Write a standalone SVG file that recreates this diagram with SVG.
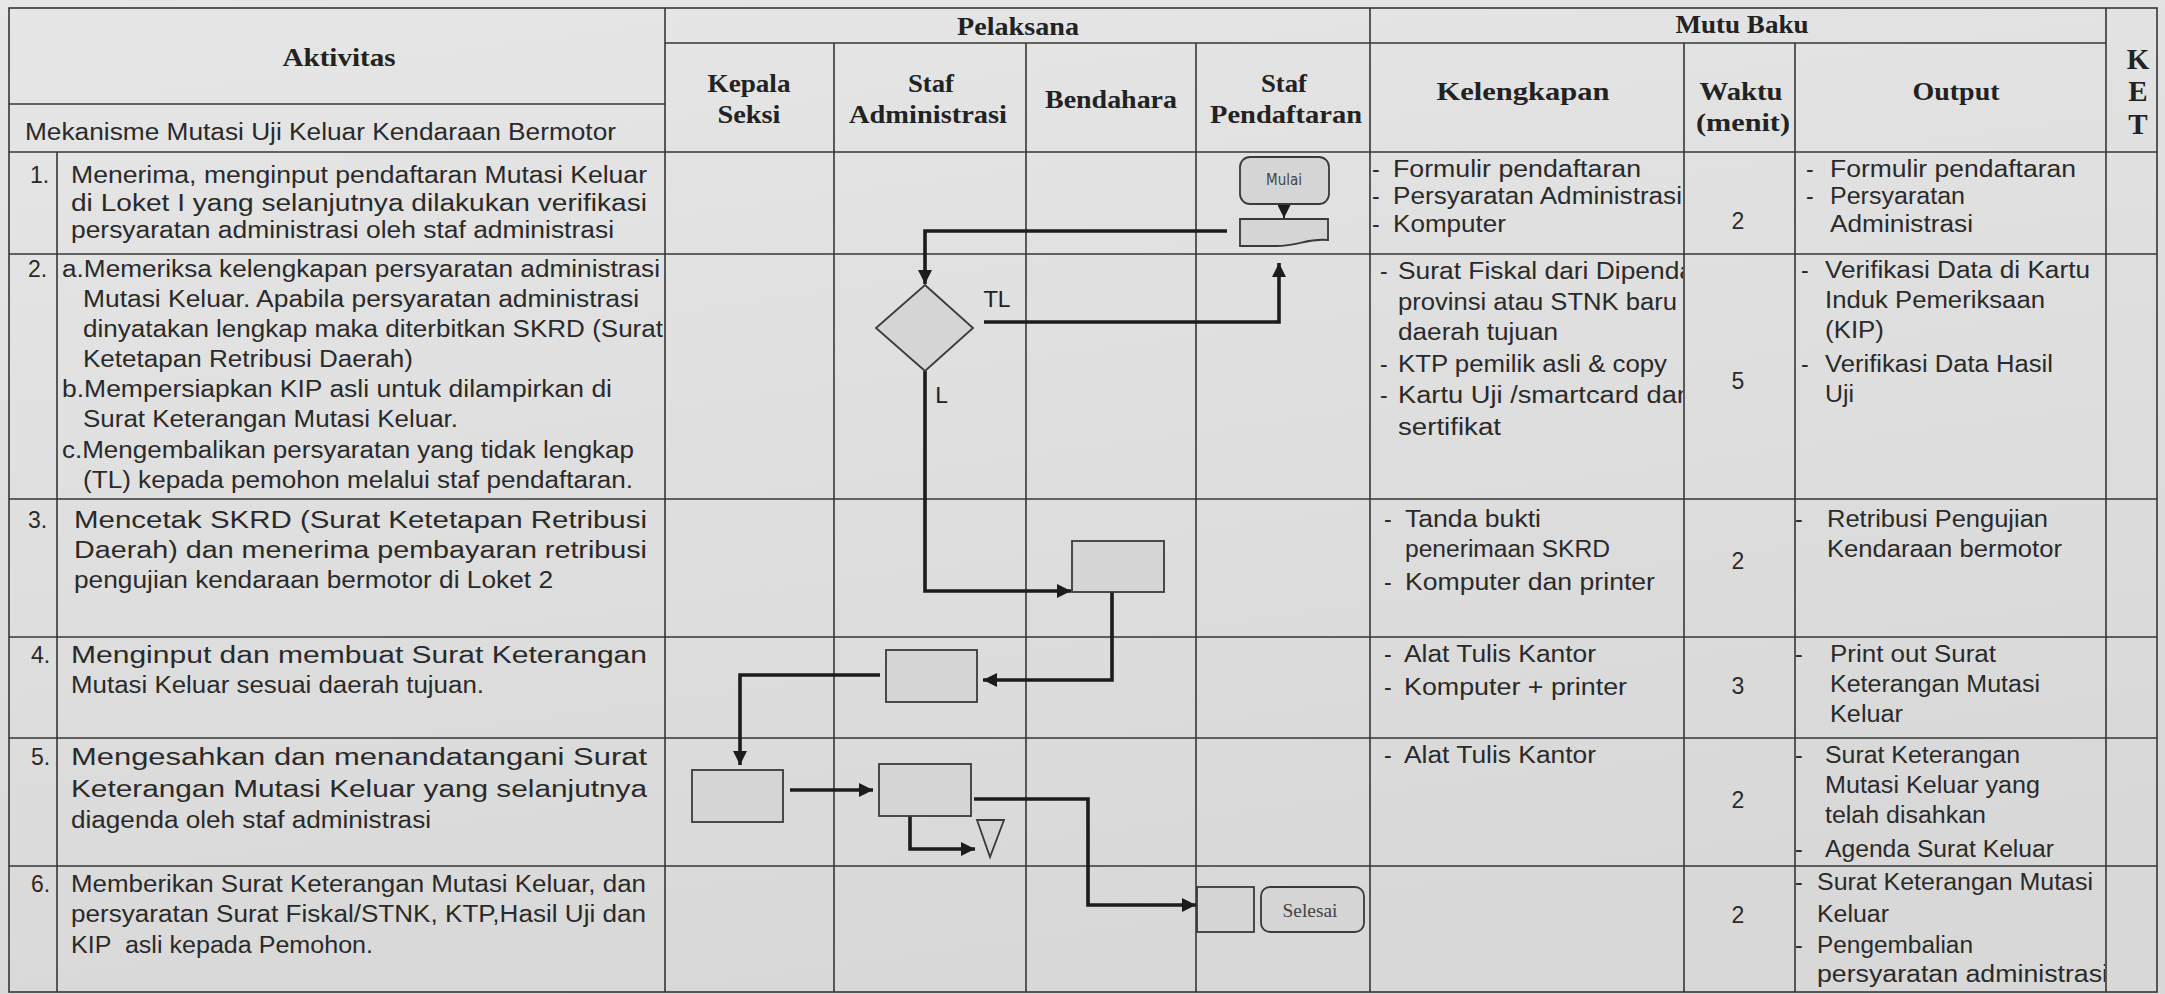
<svg xmlns="http://www.w3.org/2000/svg" width="2165" height="994" viewBox="0 0 2165 994">
<style>
.grid{stroke:#363636;stroke-width:1.6;fill:none}
.hd{font-family:"Liberation Serif",serif;font-weight:bold;font-size:26px;fill:#222}
.ket{font-size:29px}
.tx{font-family:"Liberation Sans",sans-serif;font-size:23px;fill:#2a2a2a}
.ctr{text-anchor:middle}
.box{fill:#d5d5d5;stroke:#3a3a3a;stroke-width:1.8}
.conn{stroke:#1c1c1c;stroke-width:3.6;fill:none}
.thin{stroke:#1c1c1c;stroke-width:2;fill:none}
.lbl{font-family:"DejaVu Sans",sans-serif;font-size:22px;fill:#222}
</style>
<defs>
<linearGradient id="bg" x1="0" y1="0" x2="0.3" y2="1">
<stop offset="0" stop-color="#e6e6e6"/>
<stop offset="1" stop-color="#d8d8d8"/>
</linearGradient>
<marker id="arr" viewBox="0 0 10 10" refX="10" refY="5" markerWidth="14" markerHeight="14" markerUnits="userSpaceOnUse" orient="auto">
<path d="M0,0 L10,5 L0,10 z" fill="#1c1c1c"/>
</marker>
<marker id="arrS" viewBox="0 0 10 10" refX="10" refY="5" markerWidth="14" markerHeight="13" markerUnits="userSpaceOnUse" orient="auto">
<path d="M0,0 L10,5 L0,10 z" fill="#1c1c1c"/>
</marker>
<clipPath id="clipKel"><rect x="1370" y="152" width="313" height="840"/></clipPath>
<clipPath id="clipOut"><rect x="1795" y="152" width="310" height="840"/></clipPath>
</defs>
<rect x="0" y="0" width="2165" height="994" fill="url(#bg)"/>

<g id="table">
<rect class="grid" x="9" y="8" width="2148" height="984"/>
<line class="grid" x1="665" y1="43" x2="2106" y2="43"/>
<line class="grid" x1="9" y1="104" x2="665" y2="104"/>
<line class="grid" x1="9" y1="152" x2="2157" y2="152"/>
<line class="grid" x1="9" y1="254" x2="2157" y2="254"/>
<line class="grid" x1="9" y1="499" x2="2157" y2="499"/>
<line class="grid" x1="9" y1="637" x2="2157" y2="637"/>
<line class="grid" x1="9" y1="738" x2="2157" y2="738"/>
<line class="grid" x1="9" y1="866" x2="2157" y2="866"/>
<line class="grid" x1="57" y1="152" x2="57" y2="992"/>
<line class="grid" x1="665" y1="8" x2="665" y2="992"/>
<line class="grid" x1="834" y1="43" x2="834" y2="992"/>
<line class="grid" x1="1026" y1="43" x2="1026" y2="992"/>
<line class="grid" x1="1196" y1="43" x2="1196" y2="992"/>
<line class="grid" x1="1370" y1="8" x2="1370" y2="992"/>
<line class="grid" x1="1684" y1="43" x2="1684" y2="992"/>
<line class="grid" x1="1795" y1="43" x2="1795" y2="992"/>
<line class="grid" x1="2106" y1="8" x2="2106" y2="992"/>
</g>

<g id="headers">
<text class="hd ctr" x="339" y="66" textLength="113" lengthAdjust="spacingAndGlyphs">Aktivitas</text>
<text class="tx" x="25" y="140" textLength="591" lengthAdjust="spacingAndGlyphs">Mekanisme Mutasi Uji Keluar Kendaraan Bermotor</text>
<text class="hd ctr" x="1018" y="35" textLength="122" lengthAdjust="spacingAndGlyphs">Pelaksana</text>
<text class="hd ctr" x="1742" y="33" textLength="133" lengthAdjust="spacingAndGlyphs">Mutu Baku</text>
<text class="hd ctr" x="749" y="92" textLength="83" lengthAdjust="spacingAndGlyphs">Kepala</text>
<text class="hd ctr" x="749" y="123" textLength="63" lengthAdjust="spacingAndGlyphs">Seksi</text>
<text class="hd ctr" x="931" y="92" textLength="46" lengthAdjust="spacingAndGlyphs">Staf</text>
<text class="hd ctr" x="928" y="123" textLength="158" lengthAdjust="spacingAndGlyphs">Administrasi</text>
<text class="hd ctr" x="1111" y="108" textLength="132" lengthAdjust="spacingAndGlyphs">Bendahara</text>
<text class="hd ctr" x="1284" y="92" textLength="46" lengthAdjust="spacingAndGlyphs">Staf</text>
<text class="hd ctr" x="1286" y="123" textLength="152" lengthAdjust="spacingAndGlyphs">Pendaftaran</text>
<text class="hd ctr" x="1523" y="100" textLength="173" lengthAdjust="spacingAndGlyphs">Kelengkapan</text>
<text class="hd ctr" x="1741" y="100" textLength="83" lengthAdjust="spacingAndGlyphs">Waktu</text>
<text class="hd ctr" x="1743" y="131" textLength="94" lengthAdjust="spacingAndGlyphs">(menit)</text>
<text class="hd ctr" x="1956" y="100" textLength="87" lengthAdjust="spacingAndGlyphs">Output</text>
<text class="hd ket ctr" x="2138" y="69">K</text>
<text class="hd ket ctr" x="2138" y="101">E</text>
<text class="hd ket ctr" x="2138" y="134">T</text>
</g>

<g id="aktivitas">
<text class="tx" x="30" y="183">1.</text>
<text class="tx" x="71" y="183" textLength="576" lengthAdjust="spacingAndGlyphs">Menerima, menginput pendaftaran Mutasi Keluar</text>
<text class="tx" x="71" y="211" textLength="576" lengthAdjust="spacingAndGlyphs">di Loket I yang selanjutnya dilakukan verifikasi</text>
<text class="tx" x="71" y="238" textLength="543" lengthAdjust="spacingAndGlyphs">persyaratan administrasi oleh staf administrasi</text>

<text class="tx" x="28" y="277">2.</text>
<text class="tx" x="62" y="277" textLength="598" lengthAdjust="spacingAndGlyphs">a.Memeriksa kelengkapan persyaratan administrasi</text>
<text class="tx" x="83" y="307" textLength="556" lengthAdjust="spacingAndGlyphs">Mutasi Keluar. Apabila persyaratan administrasi</text>
<text class="tx" x="83" y="337" textLength="580" lengthAdjust="spacingAndGlyphs">dinyatakan lengkap maka diterbitkan SKRD (Surat</text>
<text class="tx" x="83" y="367" textLength="330" lengthAdjust="spacingAndGlyphs">Ketetapan Retribusi Daerah)</text>
<text class="tx" x="62" y="397" textLength="550" lengthAdjust="spacingAndGlyphs">b.Mempersiapkan KIP asli untuk dilampirkan di</text>
<text class="tx" x="83" y="427" textLength="375" lengthAdjust="spacingAndGlyphs">Surat Keterangan Mutasi Keluar.</text>
<text class="tx" x="62" y="458" textLength="572" lengthAdjust="spacingAndGlyphs">c.Mengembalikan persyaratan yang tidak lengkap</text>
<text class="tx" x="83" y="488" textLength="550" lengthAdjust="spacingAndGlyphs">(TL) kepada pemohon melalui staf pendaftaran.</text>

<text class="tx" x="28" y="528">3.</text>
<text class="tx" x="74" y="528" textLength="573" lengthAdjust="spacingAndGlyphs">Mencetak SKRD (Surat Ketetapan Retribusi</text>
<text class="tx" x="74" y="558" textLength="573" lengthAdjust="spacingAndGlyphs">Daerah) dan menerima pembayaran retribusi</text>
<text class="tx" x="74" y="588" textLength="479" lengthAdjust="spacingAndGlyphs">pengujian kendaraan bermotor di Loket 2</text>

<text class="tx" x="31" y="663">4.</text>
<text class="tx" x="71" y="663" textLength="576" lengthAdjust="spacingAndGlyphs">Menginput dan membuat Surat Keterangan</text>
<text class="tx" x="71" y="693" textLength="413" lengthAdjust="spacingAndGlyphs">Mutasi Keluar sesuai daerah tujuan.</text>

<text class="tx" x="31" y="765">5.</text>
<text class="tx" x="71" y="765" textLength="576" lengthAdjust="spacingAndGlyphs">Mengesahkan dan menandatangani Surat</text>
<text class="tx" x="71" y="797" textLength="576" lengthAdjust="spacingAndGlyphs">Keterangan Mutasi Keluar yang selanjutnya</text>
<text class="tx" x="71" y="828" textLength="360" lengthAdjust="spacingAndGlyphs">diagenda oleh staf administrasi</text>

<text class="tx" x="31" y="892">6.</text>
<text class="tx" x="71" y="892" textLength="575" lengthAdjust="spacingAndGlyphs">Memberikan Surat Keterangan Mutasi Keluar, dan</text>
<text class="tx" x="71" y="922" textLength="575" lengthAdjust="spacingAndGlyphs">persyaratan Surat Fiskal/STNK, KTP,Hasil Uji dan</text>
<text class="tx" x="71" y="953" textLength="302" lengthAdjust="spacingAndGlyphs" style="white-space:pre">KIP  asli kepada Pemohon.</text>
</g>

<g id="kelengkapan" clip-path="url(#clipKel)">
<text class="tx" x="1372" y="177">-</text>
<text class="tx" x="1393" y="177" textLength="248" lengthAdjust="spacingAndGlyphs">Formulir pendaftaran</text>
<text class="tx" x="1372" y="204">-</text>
<text class="tx" x="1393" y="204" textLength="289" lengthAdjust="spacingAndGlyphs">Persyaratan Administrasi</text>
<text class="tx" x="1372" y="232">-</text>
<text class="tx" x="1393" y="232" textLength="113" lengthAdjust="spacingAndGlyphs">Komputer</text>

<text class="tx" x="1380" y="279">-</text>
<text class="tx" x="1398" y="279" textLength="296" lengthAdjust="spacingAndGlyphs">Surat Fiskal dari Dipenda</text>
<text class="tx" x="1398" y="310" textLength="279" lengthAdjust="spacingAndGlyphs">provinsi atau STNK baru</text>
<text class="tx" x="1398" y="340" textLength="160" lengthAdjust="spacingAndGlyphs">daerah tujuan</text>
<text class="tx" x="1380" y="372">-</text>
<text class="tx" x="1398" y="372" textLength="269" lengthAdjust="spacingAndGlyphs">KTP pemilik asli &amp; copy</text>
<text class="tx" x="1380" y="403">-</text>
<text class="tx" x="1398" y="403" textLength="294" lengthAdjust="spacingAndGlyphs">Kartu Uji /smartcard dan</text>
<text class="tx" x="1398" y="435" textLength="103" lengthAdjust="spacingAndGlyphs">sertifikat</text>

<text class="tx" x="1384" y="527">-</text>
<text class="tx" x="1405" y="527" textLength="136" lengthAdjust="spacingAndGlyphs">Tanda bukti</text>
<text class="tx" x="1405" y="557" textLength="205" lengthAdjust="spacingAndGlyphs">penerimaan SKRD</text>
<text class="tx" x="1384" y="590">-</text>
<text class="tx" x="1405" y="590" textLength="250" lengthAdjust="spacingAndGlyphs">Komputer dan printer</text>

<text class="tx" x="1384" y="662">-</text>
<text class="tx" x="1404" y="662" textLength="192" lengthAdjust="spacingAndGlyphs">Alat Tulis Kantor</text>
<text class="tx" x="1384" y="695">-</text>
<text class="tx" x="1404" y="695" textLength="223" lengthAdjust="spacingAndGlyphs">Komputer + printer</text>

<text class="tx" x="1384" y="763">-</text>
<text class="tx" x="1404" y="763" textLength="192" lengthAdjust="spacingAndGlyphs">Alat Tulis Kantor</text>
</g>

<g id="waktu">
<text class="tx ctr" x="1738" y="229">2</text>
<text class="tx ctr" x="1738" y="389">5</text>
<text class="tx ctr" x="1738" y="569">2</text>
<text class="tx ctr" x="1738" y="694">3</text>
<text class="tx ctr" x="1738" y="808">2</text>
<text class="tx ctr" x="1738" y="923">2</text>
</g>

<g id="output" clip-path="url(#clipOut)">
<text class="tx" x="1806" y="177">-</text>
<text class="tx" x="1830" y="177" textLength="246" lengthAdjust="spacingAndGlyphs">Formulir pendaftaran</text>
<text class="tx" x="1806" y="204">-</text>
<text class="tx" x="1830" y="204" textLength="135" lengthAdjust="spacingAndGlyphs">Persyaratan</text>
<text class="tx" x="1830" y="232" textLength="143" lengthAdjust="spacingAndGlyphs">Administrasi</text>

<text class="tx" x="1801" y="278">-</text>
<text class="tx" x="1825" y="278" textLength="265" lengthAdjust="spacingAndGlyphs">Verifikasi Data di Kartu</text>
<text class="tx" x="1825" y="308" textLength="220" lengthAdjust="spacingAndGlyphs">Induk Pemeriksaan</text>
<text class="tx" x="1825" y="338" textLength="59" lengthAdjust="spacingAndGlyphs">(KIP)</text>
<text class="tx" x="1801" y="372">-</text>
<text class="tx" x="1825" y="372" textLength="228" lengthAdjust="spacingAndGlyphs">Verifikasi Data Hasil</text>
<text class="tx" x="1825" y="402" textLength="29" lengthAdjust="spacingAndGlyphs">Uji</text>

<text class="tx" x="1795" y="527">-</text>
<text class="tx" x="1827" y="527" textLength="221" lengthAdjust="spacingAndGlyphs">Retribusi Pengujian</text>
<text class="tx" x="1827" y="557" textLength="235" lengthAdjust="spacingAndGlyphs">Kendaraan bermotor</text>

<text class="tx" x="1795" y="662">-</text>
<text class="tx" x="1830" y="662" textLength="166" lengthAdjust="spacingAndGlyphs">Print out Surat</text>
<text class="tx" x="1830" y="692" textLength="210" lengthAdjust="spacingAndGlyphs">Keterangan Mutasi</text>
<text class="tx" x="1830" y="722" textLength="73" lengthAdjust="spacingAndGlyphs">Keluar</text>

<text class="tx" x="1795" y="763">-</text>
<text class="tx" x="1825" y="763" textLength="195" lengthAdjust="spacingAndGlyphs">Surat Keterangan</text>
<text class="tx" x="1825" y="793" textLength="215" lengthAdjust="spacingAndGlyphs">Mutasi Keluar yang</text>
<text class="tx" x="1825" y="823" textLength="161" lengthAdjust="spacingAndGlyphs">telah disahkan</text>
<text class="tx" x="1795" y="857">-</text>
<text class="tx" x="1825" y="857" textLength="229" lengthAdjust="spacingAndGlyphs">Agenda Surat Keluar</text>

<text class="tx" x="1795" y="890">-</text>
<text class="tx" x="1817" y="890" textLength="276" lengthAdjust="spacingAndGlyphs">Surat Keterangan Mutasi</text>
<text class="tx" x="1817" y="922" textLength="72" lengthAdjust="spacingAndGlyphs">Keluar</text>
<text class="tx" x="1795" y="953">-</text>
<text class="tx" x="1817" y="953" textLength="156" lengthAdjust="spacingAndGlyphs">Pengembalian</text>
<text class="tx" x="1817" y="982" textLength="291" lengthAdjust="spacingAndGlyphs">persyaratan administrasi</text>
</g>

<g id="connectors">
<path class="thin" d="M1284,204 V218" marker-end="url(#arrS)"/>
<path class="conn" d="M1227,231 H925 V284" marker-end="url(#arr)"/>
<path class="conn" d="M984,322 H1279 V263" marker-end="url(#arr)"/>
<path class="conn" d="M925,371 V591 H1071" marker-end="url(#arr)"/>
<path class="conn" d="M1112,592 V680 H983" marker-end="url(#arr)"/>
<path class="conn" d="M880,675 H740 V765" marker-end="url(#arr)"/>
<path class="conn" d="M790,790 H873" marker-end="url(#arr)"/>
<path class="conn" d="M910,816 V849 H975" marker-end="url(#arr)"/>
<path class="conn" d="M974,799 H1088 V905 H1196" marker-end="url(#arr)"/>
</g>

<g id="mulai">
<rect class="box" x="1240" y="157" width="89" height="47" rx="10"/>
<text x="1284" y="185" text-anchor="middle" font-family="DejaVu Sans Condensed, DejaVu Sans, sans-serif" font-size="15" fill="#444">Mulai</text>
</g>
<g id="dokumen">
<path class="box" d="M1240,219 H1328 V240 C1306,238 1300,246 1276,246 H1240 Z"/>
</g>
<g id="keputusan">
<polygon class="box" points="925,285 973,328 925,371 876,328"/>
<text class="lbl" x="984" y="307">TL</text>
<text class="lbl" x="935" y="403">L</text>
</g>
<g id="proses-bendahara">
<rect class="box" x="1072" y="541" width="92" height="51"/>
</g>
<g id="proses-admin-4">
<rect class="box" x="886" y="650" width="91" height="52"/>
</g>
<g id="proses-kepala-5">
<rect class="box" x="692" y="770" width="91" height="52"/>
</g>
<g id="proses-admin-5">
<rect class="box" x="879" y="764" width="92" height="52"/>
</g>
<g id="arsip">
<polygon class="box" points="977,820 1004,820 990,857"/>
</g>
<g id="proses-pendaftaran-6">
<rect class="box" x="1197" y="887" width="57" height="45"/>
</g>
<g id="selesai">
<rect class="box" x="1261" y="887" width="103" height="45" rx="9"/>
<text x="1310" y="917" text-anchor="middle" font-family="Liberation Serif, serif" font-size="19" fill="#444" textLength="55" lengthAdjust="spacingAndGlyphs">Selesai</text>
</g>
</svg>
